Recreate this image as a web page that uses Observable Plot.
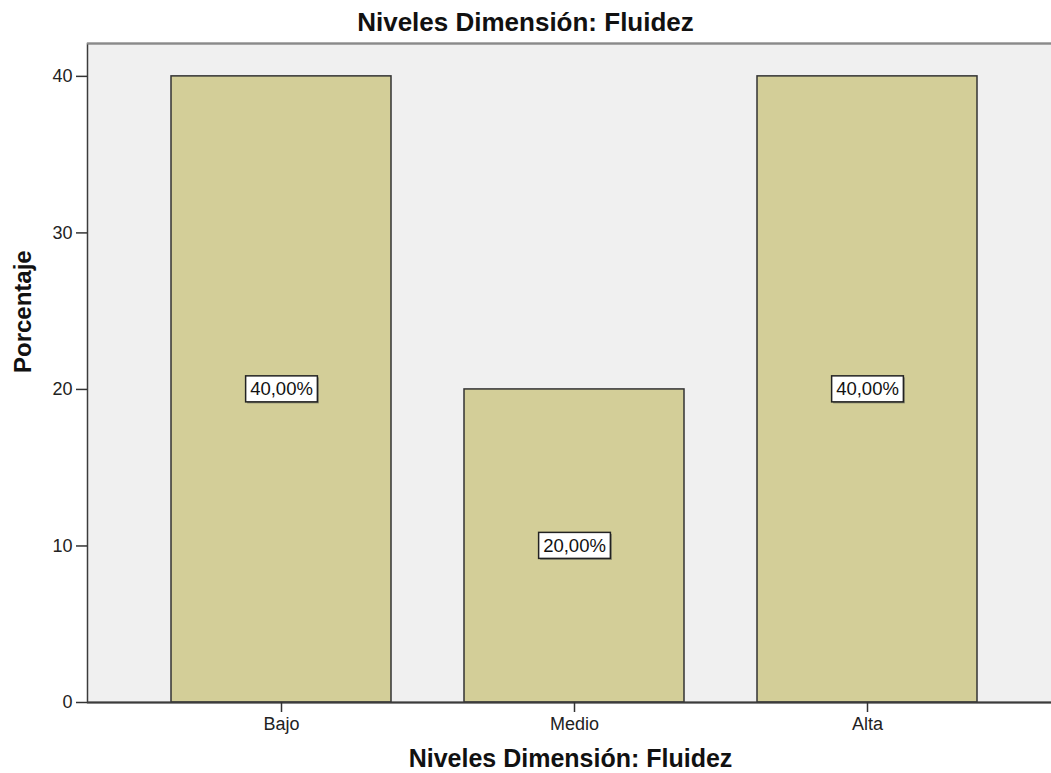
<!DOCTYPE html>
<html>
<head>
<meta charset="utf-8">
<script src="https://cdn.jsdelivr.net/npm/d3@7"></script>
<script src="https://cdn.jsdelivr.net/npm/@observablehq/plot@0.6"></script>
<style>
  html, body { margin: 0; padding: 0; background: #fff; }
  #wrap { position: relative; width: 1051px; height: 773px; overflow: hidden; font-family: "Liberation Sans", Arial, sans-serif; }
  #title { position: absolute; top: 9px; left: 0; width: 1051px; text-align: center; font-weight: bold; font-size: 26px; line-height: 26px; color: #111; }
  #chart svg { display: block; }
</style>
</head>
<body>
<div id="wrap">
  <div id="chart"></div>
  <div id="title"></div>
</div>
<script>
const chartTitle = "Niveles Dimensión: Fluidez";
const xTitle = "Niveles Dimensión: Fluidez";
const yTitle = "Porcentaje";
const categories = ["Bajo", "Medio", "Alta"];
const percents = [40, 20, 40];
const yTicks = [0, 10, 20, 30, 40];
const yMax = 42.1;

const data = categories.map((c, i) => ({level: c, value: percents[i]}));
const fmt = v => v.toFixed(2).replace(".", ",") + "%";

document.getElementById("title").textContent = chartTitle;

const plot = Plot.plot({
  width: 1051,
  height: 773,
  marginLeft: 87,
  marginRight: -2,
  marginTop: 43,
  marginBottom: 71,
  style: {fontFamily: "'Liberation Sans', Arial, sans-serif", background: "transparent", color: "#222"},
  x: {domain: categories, range: [92, 1056], paddingInner: 0.25, paddingOuter: 0.27, label: null},
  y: {domain: [0, yMax], label: null},
  marks: [
    Plot.frame({fill: "#f0f0f0", stroke: "#3c3c3c", strokeWidth: 1.5}),
    Plot.ruleY([yMax], {stroke: "#8a8a8a", strokeWidth: 2}),
    Plot.barY(data, {x: "level", y: "value", fill: "#d3ce98", stroke: "#333", strokeWidth: 1.5}),
    Plot.ruleY([0], {stroke: "#3c3c3c", strokeWidth: 2}),
    Plot.axisY({ticks: yTicks, tickSize: 11, tickPadding: 4, fontSize: 18, label: null, stroke: "#333", strokeWidth: 1.5, fill: "#222"}),
    Plot.axisX({tickSize: 10, tickPadding: 5, fontSize: 18, label: null, stroke: "#333", strokeWidth: 1.5, fill: "#222"}),
    Plot.text(data, {x: "level", y: d => d.value / 2, text: d => fmt(d.value), fontSize: 18.5, fill: "#111", className: "barlabel"}),
    Plot.text([yTitle], {frameAnchor: "left", rotate: -90, dx: -74, lineAnchor: "top", fontSize: 24, fontWeight: "bold", fill: "#111"}),
    Plot.text([xTitle], {frameAnchor: "bottom", dy: 56, lineAnchor: "middle", fontSize: 25, fontWeight: "bold", fill: "#111"})
  ]
});

document.getElementById("chart").appendChild(plot);

// white boxes behind the bar labels
const svgNS = "http://www.w3.org/2000/svg";
plot.querySelectorAll(".barlabel text").forEach(t => {
  const b = t.getBBox();
  const padX = 4.5, padY = 2.5;
  const tr = t.getAttribute("transform");
  const shadow = document.createElementNS(svgNS, "rect");
  shadow.setAttribute("x", b.x - padX + 1.5);
  shadow.setAttribute("y", b.y - padY + 1.5);
  shadow.setAttribute("width", b.width + 2 * padX);
  shadow.setAttribute("height", b.height + 2 * padY);
  shadow.setAttribute("fill", "#8a8a70");
  if (tr) shadow.setAttribute("transform", tr);
  const r = document.createElementNS(svgNS, "rect");
  r.setAttribute("x", b.x - padX);
  r.setAttribute("y", b.y - padY);
  r.setAttribute("width", b.width + 2 * padX);
  r.setAttribute("height", b.height + 2 * padY);
  r.setAttribute("fill", "#fff");
  r.setAttribute("stroke", "#222");
  r.setAttribute("stroke-width", 1.5);
  if (tr) r.setAttribute("transform", tr);
  t.parentNode.insertBefore(shadow, t);
  t.parentNode.insertBefore(r, t);
});
</script>
</body>
</html>
